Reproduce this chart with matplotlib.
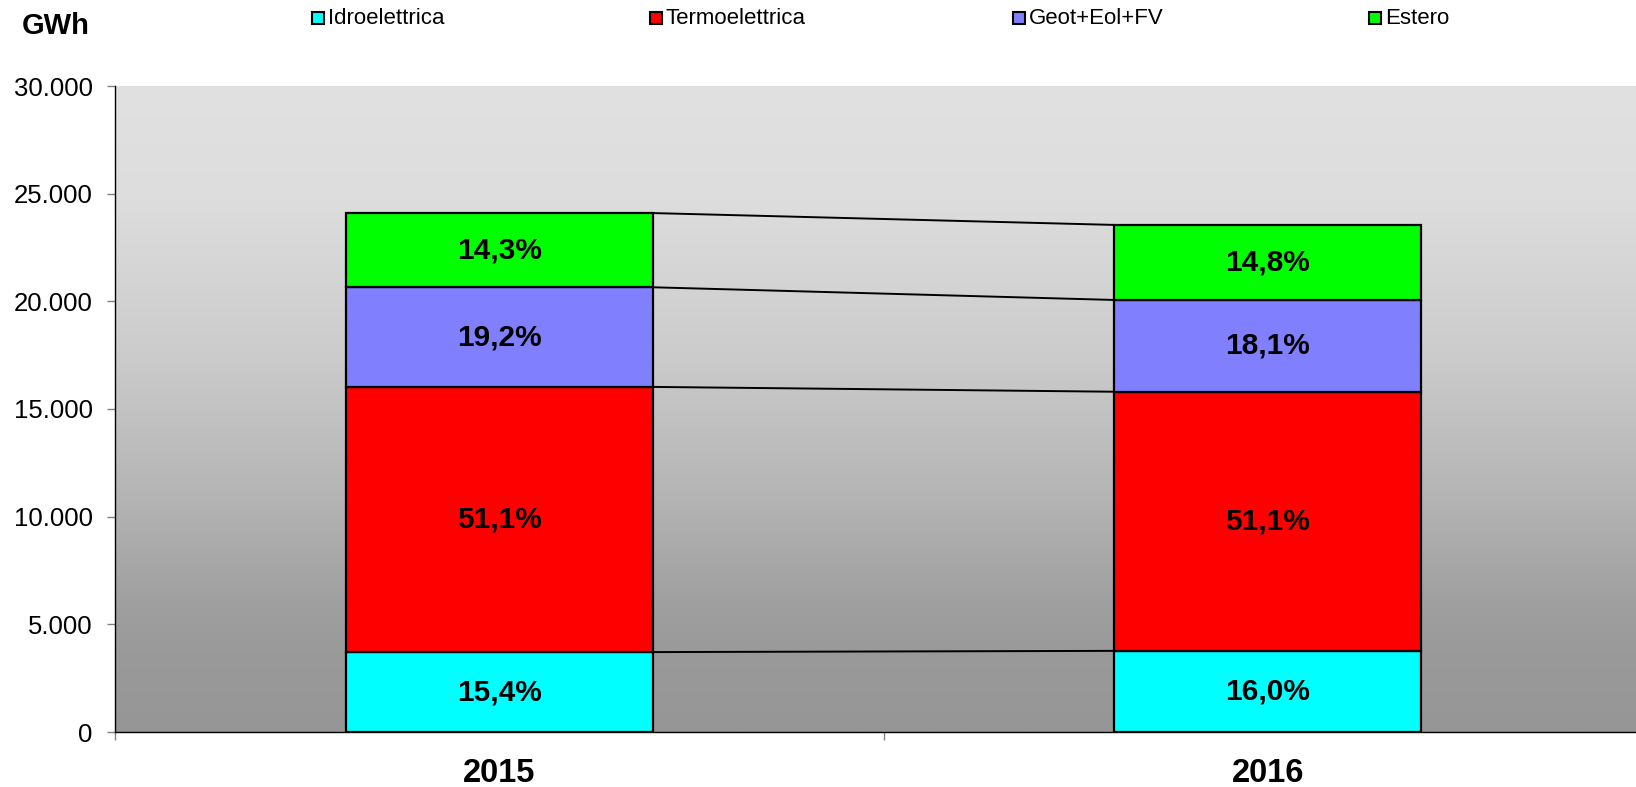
import matplotlib
matplotlib.use('Agg')
import matplotlib.pyplot as plt
import numpy as np
from matplotlib.patches import Rectangle
from matplotlib.ticker import FuncFormatter, FixedLocator

plt.rcParams['font.family'] = ['Liberation Sans', 'DejaVu Sans']

# ---------------- data ----------------
years = ['2015', '2016']
series = ['Idroelettrica', 'Termoelettrica', 'Geot+Eol+FV', 'Estero']
idro = [3711, 3768]
termo = [12315, 12034]
geot = [4627, 4262]
estero = [3446, 3485]
idro_lbl = ['15,4%', '16,0%']
termo_lbl = ['51,1%', '51,1%']
geot_lbl = ['19,2%', '18,1%']
estero_lbl = ['14,3%', '14,8%']
yticks = [0, 5000, 10000, 15000, 20000, 25000, 30000]

colors = ['#00FFFF', '#FF0000', '#8080FF', '#00FF00']
values = [idro, termo, geot, estero]
labels = [idro_lbl, termo_lbl, geot_lbl, estero_lbl]

W, H = 1636, 787
fig = plt.figure(figsize=(W / 100, H / 100), dpi=100)
ax = fig.add_axes([115 / W, 55 / H, 1537 / W, 646 / H])

# background gradient
N = 400
t = np.linspace(0, 1, N)
ypix = 86 + t * 646
gy = [86, 200, 300, 360, 500, 600, 650, 732]
gv = [225, 221, 210, 203, 180, 160, 154, 150]
g = np.interp(ypix, gy, gv) / 255.0
grad = np.repeat(g[:, None, None], 3, axis=2)
ax.imshow(grad, extent=[0, 1, 0, 1], transform=ax.transAxes, aspect='auto',
          interpolation='bilinear', zorder=0)

x = np.arange(len(years))
bw = 0.4
bottom = np.zeros(len(years))
cums = []
for vals, col, lbls in zip(values, colors, labels):
    vals = np.array(vals, dtype=float)
    ax.bar(x, vals, bw, bottom=bottom, color=col, edgecolor='black',
           linewidth=1.6, zorder=3)
    for xi, b, v, l in zip(x, bottom, vals, lbls):
        ax.text(xi, b + v / 2, l, ha='center', va='center', fontsize=21.5,
                fontweight='bold', zorder=4)
    bottom = bottom + vals
    cums.append(bottom.copy())

for c in cums:
    ax.plot([x[0] + bw / 2, x[1] - bw / 2], [c[0], c[1]], color='black',
            lw=1.4, zorder=2, solid_capstyle='butt')

ax.set_xlim(-0.5, 1.5)
ax.set_ylim(0, 30000)
ax.set_yticks(yticks)
ax.yaxis.set_major_formatter(FuncFormatter(lambda v, p: f"{int(v):,}".replace(',', '.')))
ax.tick_params(axis='y', direction='out', length=6, color='#808080',
               labelsize=18.5, pad=10, width=1)

ax.xaxis.set_major_locator(FixedLocator([-0.5, 0.5, 1.5]))
ax.xaxis.set_major_formatter(FuncFormatter(lambda v, p: ''))
ax.xaxis.set_minor_locator(FixedLocator(list(x)))
ax.set_xticklabels(years, minor=True)
ax.tick_params(axis='x', which='major', direction='out', length=6,
               color='#808080', width=1)
ax.tick_params(axis='x', which='minor', length=0, labelsize=23.5, pad=19)
for lab in ax.get_xticklabels(minor=True):
    lab.set_fontweight('bold')

for s in ['top', 'right']:
    ax.spines[s].set_visible(False)
for s in ['left', 'bottom']:
    ax.spines[s].set_color('black')
    ax.spines[s].set_linewidth(1)
    ax.spines[s].set_zorder(5)

fig.text(22 / W, 1 - 26 / H, 'GWh', fontsize=21, fontweight='bold',
         ha='left', va='center')

# legend
mx = [312, 650, 1013, 1369]
for name, col, m in zip(series, colors, mx):
    fig.add_artist(Rectangle((m / W, 1 - 24 / H), 12 / W, 12 / H,
                             transform=fig.transFigure, facecolor=col,
                             edgecolor='black', lw=1.5))
    fig.text((m + 16) / W, 1 - 19 / H, name, fontsize=16, ha='left',
             va='center')

fig.savefig('out.png', dpi=100)
